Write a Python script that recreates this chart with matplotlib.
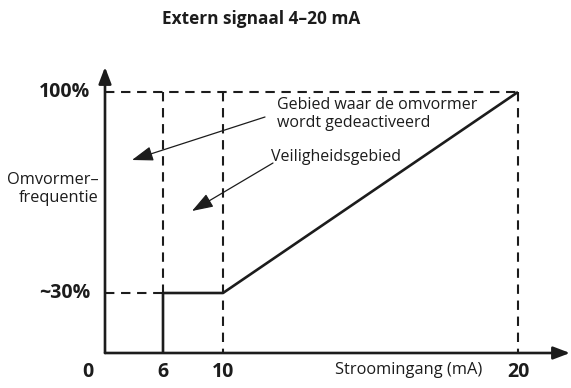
import numpy as np
import matplotlib
matplotlib.use("Agg")
import matplotlib.pyplot as plt

plt.rcParams['font.family'] = ['Open Sans', 'DejaVu Sans']

# Schematic values
current_ticks = [6, 10, 20]            # mA
current_labels = ['6', '10', '20']
freq_ticks = [30, 100]                 # %
freq_labels = ['~30%', '100%']
off_threshold = 6                      # converter off below this current
safe_threshold = 10                    # minimum-speed region up to here
min_freq = 30
max_freq = 100
max_current = 20

# Non-linear schematic scales (value -> drawing position)
x_knots = np.array([0, 6, 10, 20, 22.0])
x_pos = np.array([0, 58, 118, 413, 465.0])
y_knots = np.array([0, 30, 100, 114.0])
y_pos = np.array([0, 60, 261, 286.0])


def fx(v):
    return np.interp(v, x_knots, x_pos)


def fx_inv(p):
    return np.interp(p, x_pos, x_knots)


def fy(v):
    return np.interp(v, y_knots, y_pos)


def fy_inv(p):
    return np.interp(p, y_pos, y_knots)


W, H = 571, 388
fig = plt.figure(figsize=(W / 100, H / 100), dpi=100)
ax = fig.add_axes([105 / W, (H - 353) / H, 465 / W, 286 / H])
ax.set_xscale('function', functions=(fx, fx_inv))
ax.set_yscale('function', functions=(fy, fy_inv))
ax.set_xlim(0, 22)
ax.set_ylim(0, 114)
for s in ax.spines.values():
    s.set_visible(False)
ax.set_xticks([])
ax.set_yticks([])

ink = '#1c1c1c'
dash = dict(color=ink, lw=1.5, ls=(0, (4.5, 3.2)), clip_on=False)
solid = dict(color=ink, lw=1.9, clip_on=False, solid_capstyle='butt')

# Axes with arrowheads
arrow_kw = dict(arrowstyle='-|>,head_length=1.0,head_width=0.38', color=ink,
                lw=1.9, shrinkA=0, shrinkB=0)
ax.annotate('', xy=(22, 0), xytext=(0, 0), arrowprops=arrow_kw,
            annotation_clip=False)
ax.annotate('', xy=(0, 114), xytext=(0, 0), arrowprops=arrow_kw,
            annotation_clip=False)

# Dashed guide lines
ax.plot([0, max_current], [max_freq, max_freq], **dash)
ax.plot([off_threshold, off_threshold], [max_freq, min_freq], **dash)
ax.plot([safe_threshold, safe_threshold], [max_freq, 0], **dash)
ax.plot([max_current, max_current], [max_freq, 0], **dash)
ax.plot([0, off_threshold], [min_freq, min_freq], **dash)

# Characteristic curve
ax.plot([off_threshold, off_threshold, safe_threshold, max_current],
        [0, min_freq, min_freq, max_freq], **solid)

# Tick labels
tick_font = dict(fontsize=14, fontweight='bold', color=ink)
for v, t in zip(current_ticks, current_labels):
    ax.annotate(t, (v, 0), xytext=(0, -13.7), textcoords='offset points',
                ha='center', va='center', annotation_clip=False, **tick_font)
ax.annotate('0', (0, 0), xytext=(-12, -13.7), textcoords='offset points',
            ha='center', va='center', annotation_clip=False, **tick_font)
for v, t in zip(freq_ticks, freq_labels):
    ax.annotate(t, (0, v), xytext=(-10.5, 0), textcoords='offset points',
                ha='right', va='center', annotation_clip=False, **tick_font)

# Axis titles
fig.text(99 / W, 1 - 189 / H, 'Omvormer–\nfrequentie', ha='right', va='center',
         fontsize=11.8, color=ink, linespacing=1.15)
fig.text(409 / W, 1 - 370 / H, 'Stroomingang (mA)', ha='center', va='center',
         fontsize=11.8, color=ink)
fig.text(261 / W, 1 - 19 / H, 'Extern signaal 4–20 mA', ha='center',
         va='center', fontsize=12.4, fontweight='bold', color=ink)

# Region callouts
pointer = dict(arrowstyle='-|>,head_length=1.3,head_width=0.45', color=ink,
               lw=0.9, shrinkA=0, shrinkB=0)
fig.text(277 / W, 1 - 114 / H, 'Gebied waar de omvormer\nwordt gedeactiveerd',
         ha='left', va='center', fontsize=11.5, color=ink, linespacing=1.15)
fig.text(271 / W, 1 - 157 / H, 'Veiligheidsgebied', ha='left', va='center',
         fontsize=11.5, color=ink)
ax.annotate('', xy=(132 / W, 1 - 160 / H), xytext=(265 / W, 1 - 117 / H),
            xycoords='figure fraction', textcoords='figure fraction',
            arrowprops=pointer, annotation_clip=False)
ax.annotate('', xy=(192 / W, 1 - 211 / H), xytext=(273 / W, 1 - 163 / H),
            xycoords='figure fraction', textcoords='figure fraction',
            arrowprops=pointer, annotation_clip=False)

fig.savefig('out.png', dpi=100, facecolor='white')
